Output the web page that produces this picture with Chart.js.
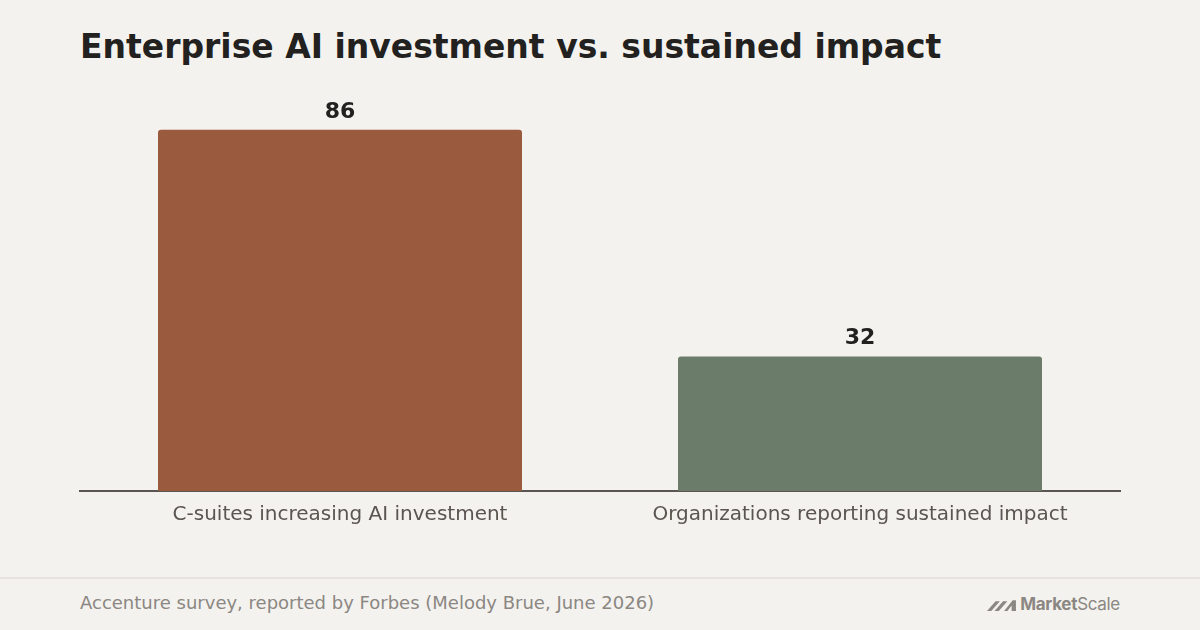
<!DOCTYPE html>
<html>
<head>
<meta charset="utf-8">
<script src="https://cdn.jsdelivr.net/npm/chart.js@4.4.1/dist/chart.umd.min.js"></script>
<style>
  html, body { margin: 0; padding: 0; }
  body { width: 1200px; height: 630px; background: #f3f2ee; position: relative; overflow: hidden; font-family: "DejaVu Sans", sans-serif; }
  #title { position: absolute; left: 80px; top: 27px; font-size: 33px; font-weight: bold; color: #222120; white-space: nowrap; }
  #chartBox { position: absolute; left: 0; top: 0; width: 1200px; height: 560px; }
  #footerLine { position: absolute; left: 0; top: 577px; width: 1200px; height: 2px; background: #e6e3de; }
  #source { position: absolute; left: 80px; top: 592px; font-size: 18px; color: #8b8782; white-space: nowrap; }
  #logo { position: absolute; right: 80px; top: 594px; font-size: 17px; color: #8b8782; white-space: nowrap; display: flex; align-items: center; font-family: "Inter", "DejaVu Sans", sans-serif; letter-spacing: -0.3px; }
  #logo b { font-weight: 700; }
  #logo svg { margin-right: 3px; }
</style>
</head>
<body>
<div id="title">Enterprise AI investment vs. sustained impact</div>
<div id="chartBox"><canvas id="impactChart"></canvas></div>
<div id="footerLine"></div>
<div id="source">Accenture survey, reported by Forbes (Melody Brue, June 2026)</div>
<div id="logo">
  <svg width="30" height="15" viewBox="0 0 28 14"><path d="M0 13 L8 4 L12 4 L4 13 Z M7 13 L15 4 L19 4 L11 13 Z M16 13 L24 3 L27 3 L27 13 L23 13 L23 8 L19 13 Z" fill="#8b8782"/></svg>
  <b>Market</b>Scale
</div>
<script>
const categories = ['C-suites increasing AI investment', 'Organizations reporting sustained impact'];
const values = [86, 32];
const barColors = ['#9a5a3e', '#6c7c6a'];

// value labels above each bar
const valueLabels = {
    id: 'valueLabels',
    afterDatasetsDraw(chart) {
        const ctx = chart.ctx;
        const meta = chart.getDatasetMeta(0);
        ctx.save();
        ctx.font = 'bold 22px "DejaVu Sans", sans-serif';
        ctx.fillStyle = '#222120';
        ctx.textAlign = 'center';
        ctx.textBaseline = 'middle';
        meta.data.forEach((bar, i) => {
            ctx.fillText(String(values[i]), bar.x, bar.y - 18);
        });
        ctx.restore();
    }
};

const impactCtx = document.getElementById('impactChart').getContext('2d');
const impactChart = new Chart(impactCtx, {
    type: 'bar',
    data: {
        labels: categories,
        datasets: [{
            data: values,
            backgroundColor: barColors,
            borderRadius: 3,
            borderSkipped: 'start',
            categoryPercentage: 0.7,
            barPercentage: 1
        }]
    },
    options: {
        responsive: true,
        maintainAspectRatio: false,
        animation: false,
        layout: { padding: { left: 80, right: 80, top: 71, bottom: 0 } },
        scales: {
            y: {
                display: false,
                min: 0,
                max: 100
            },
            x: {
                grid: { display: false, drawTicks: false },
                border: { display: true, color: '#5a5550', width: 2 },
                ticks: {
                    color: '#5a5550',
                    padding: 12,
                    font: { family: '"DejaVu Sans", sans-serif', size: 20 }
                },
                afterFit(scale) { scale.height = 69; }
            }
        },
        plugins: {
            legend: { display: false },
            tooltip: { enabled: false }
        }
    },
    plugins: [valueLabels]
});
</script>
</body>
</html>
